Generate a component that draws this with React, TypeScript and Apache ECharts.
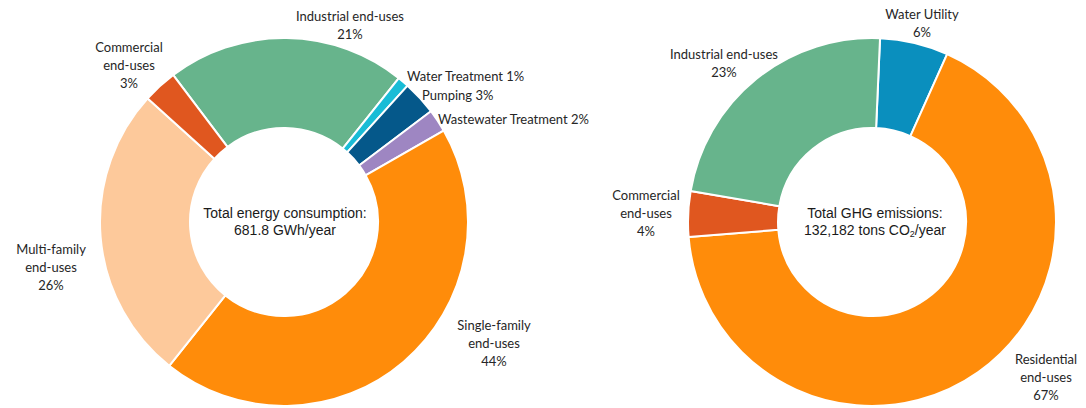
import React, { useEffect, useRef } from 'react';
import * as echarts from 'echarts';

// ---- Data ----
const energyNames = [
  'Industrial end-uses',
  'Water Treatment',
  'Pumping',
  'Wastewater Treatment',
  'Single-family end-uses',
  'Multi-family end-uses',
  'Commercial end-uses',
];
const energyValues = [21, 1, 3, 2, 44, 26, 3];
const energyLabelText = [
  'Industrial end-uses\n{v}',
  'Water Treatment {v}',
  'Pumping {v}',
  'Wastewater Treatment {v}',
  'Single-family\nend-uses\n{v}',
  'Multi-family\nend-uses\n{v}',
  'Commercial\nend-uses\n{v}',
];

const ghgNames = ['Water Utility', 'Residential end-uses', 'Commercial end-uses', 'Industrial end-uses'];
const ghgValues = [6, 67, 4, 23];
const ghgLabelText = [
  'Water Utility\n{v}',
  'Residential\nend-uses\n{v}',
  'Commercial\nend-uses\n{v}',
  'Industrial end-uses\n{v}',
];

const energyCenterLines = ['Total energy consumption:', '681.8 GWh/year'];
const ghgCenterLines = ['Total GHG emissions:', '132,182 tons CO', '2', '/year'];

// ---- Styles / layout ----
const energyColors = ['#67B48C', '#19BCD6', '#05588A', '#9E86C2', '#FF8C0A', '#FDC99B', '#E0571F'];
const ghgColors = ['#0A8FBE', '#FF8C0A', '#E0571F', '#67B48C'];

const energyLabelPos: [number, number, string][] = [
  [350, 25, 'center'],
  [407, 76, 'left'],
  [422, 95, 'left'],
  [438, 119, 'left'],
  [494, 343, 'center'],
  [51, 267, 'center'],
  [129, 65, 'center'],
];
const ghgLabelPos: [number, number, string][] = [
  [922, 23, 'center'],
  [1046, 377, 'center'],
  [646, 213, 'center'],
  [724, 63, 'center'],
];

const labelFont = 'Lato, "Open Sans", sans-serif';
const centerFont = '"Liberation Sans", Arial, sans-serif';
const textColor = '#262626';

export default function App() {
  const ref = useRef<HTMLDivElement>(null);

  useEffect(() => {
    if (!ref.current) return;
    const chart = echarts.init(ref.current, null, { renderer: 'svg' });

    const makeSeries = (
      names: string[],
      values: number[],
      colors: string[],
      texts: string[],
      pos: [number, number, string][],
      center: [number, number],
      startAngle: number
    ) => ({
      type: 'pie',
      center,
      radius: [94, 184],
      startAngle,
      clockwise: true,
      avoidLabelOverlap: false,
      silent: true,
      itemStyle: { borderColor: '#ffffff', borderWidth: 2 },
      label: {
        show: true,
        position: 'outside',
        fontFamily: labelFont,
        fontSize: 13,
        lineHeight: 18,
        color: textColor,
        formatter: (p: any) => texts[p.dataIndex].replace('{v}', p.value + '%'),
      },
      labelLine: { show: false },
      labelLayout: (p: any) => {
        const q = pos[p.dataIndex];
        return { x: q[0], y: q[1], align: q[2], verticalAlign: 'middle', hideOverlap: false };
      },
      data: names.map((n, i) => ({ name: n, value: values[i], itemStyle: { color: colors[i] } })),
    });

    chart.setOption({
      animation: false,
      backgroundColor: '#ffffff',
      series: [
        makeSeries(energyNames, energyValues, energyColors, energyLabelText, energyLabelPos, [284, 222], 127),
        makeSeries(ghgNames, ghgValues, ghgColors, ghgLabelText, ghgLabelPos, [872, 222], 87.5),
      ],
      graphic: [
        {
          type: 'text',
          x: 285,
          y: 221,
          style: {
            text: energyCenterLines.join('\n'),
            align: 'center',
            verticalAlign: 'middle',
            fontFamily: centerFont,
            fontSize: 14,
            lineHeight: 17,
            fill: '#1a1a1a',
          },
        },
        {
          type: 'text',
          x: 875,
          y: 221,
          style: {
            text: `{a|${ghgCenterLines[0]}}\n{a|${ghgCenterLines[1]}}{s|${ghgCenterLines[2]}}{a|${ghgCenterLines[3]}}`,
            align: 'center',
            verticalAlign: 'middle',
            fontFamily: centerFont,
            fontSize: 14,
            lineHeight: 17,
            fill: '#1a1a1a',
            rich: {
              a: { fontFamily: centerFont, fontSize: 14, lineHeight: 17, fill: '#1a1a1a', color: '#1a1a1a' },
              s: { fontFamily: centerFont, fontSize: 9, lineHeight: 17, padding: [9, 0, 0, 0], fill: '#1a1a1a', color: '#1a1a1a' },
            },
          },
        },
      ],
    });

    return () => chart.dispose();
  }, []);

  return (
    <div
      ref={ref}
      style={{ position: 'fixed', left: 0, top: 0, width: 1086, height: 408, background: '#fff' }}
    />
  );
}
